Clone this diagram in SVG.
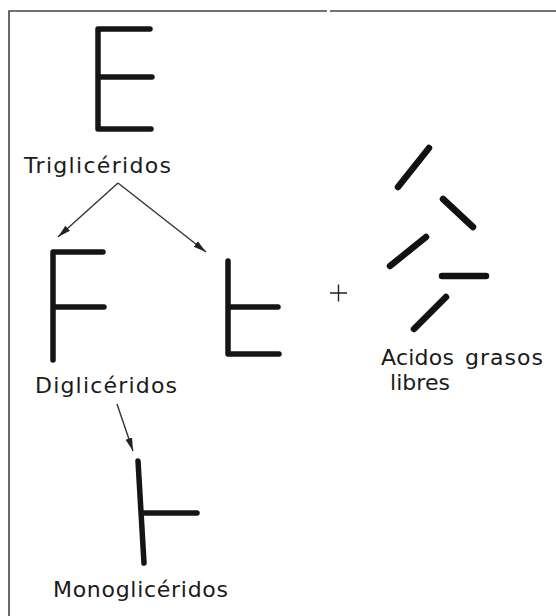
<svg xmlns="http://www.w3.org/2000/svg" width="556" height="616" viewBox="0 0 556 616">
<style>
.bar{fill:none;stroke:#151515;stroke-width:5.5;stroke-linecap:round;stroke-linejoin:round}
.stick{fill:none;stroke:#111;stroke-width:6.5;stroke-linecap:round}
.lbl{font-family:"DejaVu Sans","Liberation Sans",sans-serif;font-size:22px;fill:#1a1a1a}
.con{fill:none;stroke:#333;stroke-width:1.4}
.frame{fill:none;stroke:#444;stroke-width:1.6}
</style>
<defs>
<marker id="ah" markerUnits="userSpaceOnUse" markerWidth="15" markerHeight="10" refX="13" refY="4" orient="auto">
<path d="M0,0.6 L13,4 L0,7.4 Z" fill="#222"/>
</marker>
</defs>
<rect x="0" y="0" width="556" height="616" fill="#fff"/>
<g id="frame">
<path class="frame" d="M9,616 V11 H327"/>
<path class="frame" d="M330,11 H556" stroke-width="2.2"/>
</g>
<g id="trigliceridos">
<path class="bar" d="M150,29 H98 V129 H151 M98,77 H152"/>
<text class="lbl" x="24" y="173" textLength="147" lengthAdjust="spacing">Triglicéridos</text>
</g>
<g id="digliceridos">
<path class="bar" d="M103,252 H53 V360 M53,307 H104"/>
<text class="lbl" x="35" y="393" textLength="142" lengthAdjust="spacing">Diglicéridos</text>
</g>
<g id="digliceridos2">
<path class="bar" d="M228,261 V354 H279 M228,307 H278"/>
</g>
<g id="plus">
<path d="M330,293 H347 M338.5,284.5 V301.5" stroke="#222" stroke-width="1.4" fill="none"/>
</g>
<g id="acidos-grasos">
<path class="stick" d="M398,187 L429,148"/>
<path class="stick" d="M443,199 L473,227"/>
<path class="stick" d="M390,266 L426,237"/>
<path class="stick" d="M442,276 H486"/>
<path class="stick" d="M414,329 L446,297"/>
<text class="lbl" y="365"><tspan x="381" textLength="73" lengthAdjust="spacing">Acidos</tspan> <tspan x="465" textLength="78" lengthAdjust="spacing">grasos</tspan></text>
<text class="lbl" x="390" y="390" textLength="60" lengthAdjust="spacing">libres</text>
</g>
<g id="monogliceridos">
<path class="bar" d="M138,461 L144,563 M141,513 H197"/>
<text class="lbl" x="53" y="597" textLength="175" lengthAdjust="spacing">Monoglicéridos</text>
</g>
<g id="connectors">
<path class="con" d="M118,183 L58,237" marker-end="url(#ah)"/>
<path class="con" d="M118,183 L206,252" marker-end="url(#ah)"/>
<path class="con" d="M117,404 L133,451" marker-end="url(#ah)"/>
</g>
</svg>
